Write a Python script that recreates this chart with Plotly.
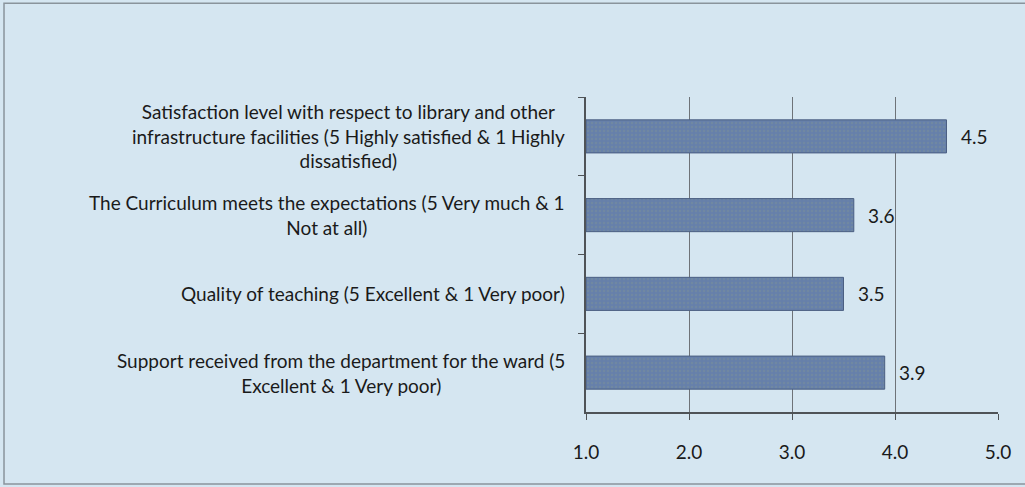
import plotly.graph_objects as go

categories = [
    "Satisfaction level with respect to library and other<br>infrastructure facilities (5 Highly satisfied & 1 Highly<br>dissatisfied)",
    "The Curriculum meets the expectations (5 Very much & 1<br>Not at all)",
    "Quality of teaching (5 Excellent & 1 Very poor)",
    "Support received from the department for the ward (5<br>Excellent & 1 Very poor)",
]
values = [4.5, 3.6, 3.5, 3.9]
tick_vals = [1.0, 2.0, 3.0, 4.0, 5.0]
tick_text = ["1.0", "2.0", "3.0", "4.0", "5.0"]

FONT = "Lato"
BG = "#d5e6f1"

fig = go.Figure()
fig.add_trace(go.Bar(
    y=categories, x=[v - 1.0 for v in values], base=1.0, orientation="h",
    marker=dict(color="#6680aa", line=dict(color="#4b5f82", width=1),
                pattern=dict(shape=".", fgcolor="#7a8f9a", size=4, solidity=0.3)),
    width=0.42, hoverinfo="skip",
))

for c, v in zip(categories, values):
    fig.add_annotation(x=v, y=c, xref="x", yref="y", text=f"{v:.1f}",
                       showarrow=False, xanchor="left", xshift=12,
                       font=dict(family=FONT, size=19, color="#1a1a1a"))
    fig.add_annotation(x=-0.047, y=c, xref="paper", yref="y", text=c,
                       showarrow=False, xanchor="right", align="center",
                       font=dict(family=FONT, size=19, color="#1a1a1a"))

# outer frame
fig.add_shape(type="rect", xref="paper", yref="paper",
              x0=-1.4126, x1=1.3, y0=-0.2286, y1=1.298,
              line=dict(color="#8a949c", width=1.5), fillcolor="rgba(0,0,0,0)", layer="below")

fig.update_layout(
    width=1025, height=487,
    margin=dict(l=586, r=27, t=97, b=75),
    paper_bgcolor=BG, plot_bgcolor=BG,
    showlegend=False,
    font=dict(family=FONT, size=19, color="#1a1a1a"),
    xaxis=dict(range=[1, 5], tickvals=tick_vals, ticktext=tick_text,
               showgrid=True, gridcolor="#6e7378", gridwidth=1,
               showline=True, linecolor="#4f5357", linewidth=1.5,
               ticks="outside", ticklen=6, tickcolor="#4f5357",
               ticklabelstandoff=16,
               zeroline=False, fixedrange=True,
               tickfont=dict(family=FONT, size=19, color="#1a1a1a")),
    yaxis=dict(autorange="reversed", showticklabels=False,
               showline=True, linecolor="#4f5357", linewidth=1.5,
               ticks="outside", ticklen=6, tickcolor="#4f5357",
               tickson="boundaries", showgrid=False, fixedrange=True),
)

fig.write_html("out.html", config={"displayModeBar": False},
               post_script="document.body.style.margin='0';")
